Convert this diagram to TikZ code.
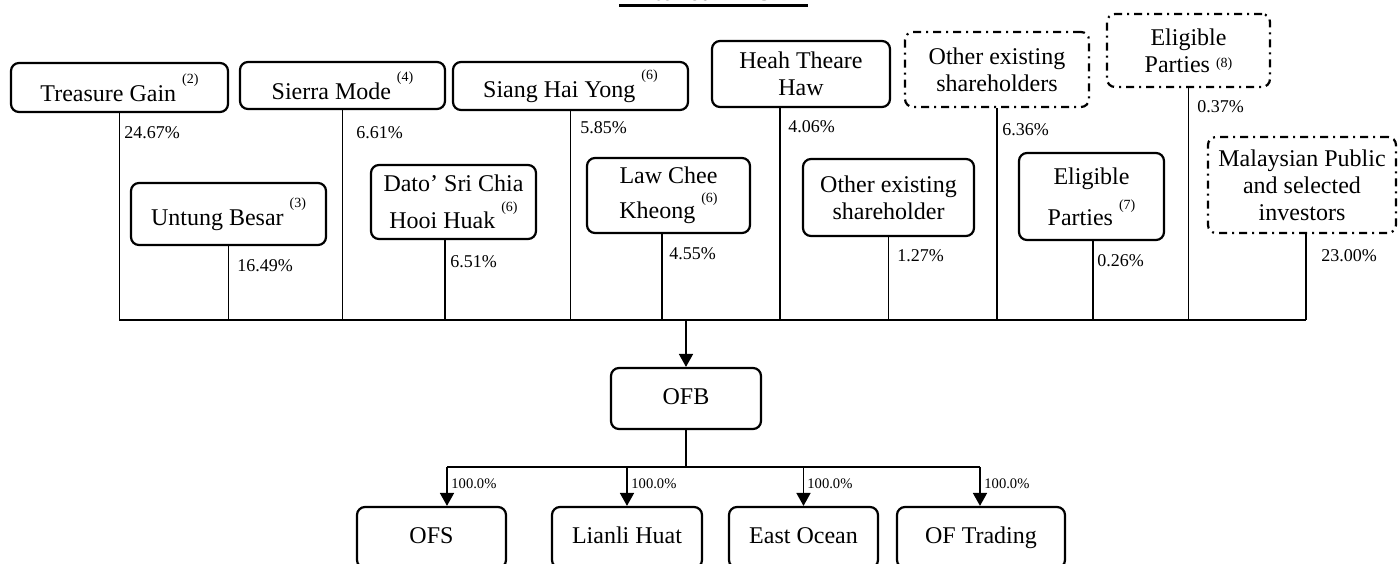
\documentclass[tikz,border=0pt]{standalone}
\usepackage{fontspec}
\setmainfont{Liberation Serif}
\usetikzlibrary{arrows.meta}
\newcommand\fnref[2][9pt]{\raisebox{#1}{\fontsize{7}{8}\selectfont(#2)}}
\tikzset{
    RB/.style ={rectangle,rounded corners=4pt,draw,line width=1.1pt,align=center,inner sep=0pt,font=\fontsize{12}{13.5}\selectfont},
    RD/.style ={RB,dash pattern=on 4pt off 2.5pt on 1pt off 2.5pt},
    RS/.style ={RB,text height=8pt,text depth=2.5pt},
    BS/.style 2 args={minimum width=#1*0.5pt,minimum height=#2*0.5pt},
    PC/.style ={anchor=west,inner sep=0pt,font=\fontsize{9}{10}\selectfont},
    PS/.style ={anchor=west,inner sep=0pt,font=\fontsize{7.3}{8}\selectfont},
    LN/.style ={line width=0.9pt},
    AR/.style ={LN,-{Triangle[width=7pt,length=6.5pt]}}}
\begin{document}
\begin{tikzpicture}[x=0.5pt,y=-0.5pt]
        \useasboundingbox (0,0) rectangle (1399,563);
        % title
        \node[anchor=base,inner sep=0pt,font=\bfseries\fontsize{12}{13.5}\selectfont] (ttl) at (701,0.5) {After our IPO};
        \draw[line width=1.5pt] (619,5.5) -- (808,5.5);
        % shareholders, upper row
        \node[RB,BS={217}{49}] (tg) at (119.5,87.5) {Treasure Gain \fnref{2}};
        \node[RB,BS={205}{47}] (sm) at (342.5,85.5) {Sierra Mode \fnref{4}};
        \node[RB,BS={235}{48}] (shy) at (570.5,86) {Siang Hai Yong \fnref{6}};
        \node[RB,BS={178}{66}] (hth) at (801,74) {Heah Theare\\Haw};
        \node[RD,BS={184}{75}] (oes) at (997,69.5) {Other existing\\shareholders};
        \node[RD,BS={163}{73}] (ep8) at (1188.5,50.5) {Eligible\\Parties \fnref[2.5pt]{8}};
        % shareholders, lower row
        \node[RB,BS={195}{62}] (ub) at (228.5,214) {Untung Besar \fnref{3}};
        \node[RB,BS={165}{74}] (dato) at (453.5,202) {Dato’ Sri Chia\\[5pt]Hooi Huak \fnref[8.5pt]{6}};
        \node[RB,BS={163}{75}] (lck) at (668.5,195.5) {Law Chee\\[4pt]Kheong \fnref[8pt]{6}};
        \node[RB,BS={171}{77}] (oesh) at (888.5,197.5) {Other existing\\shareholder};
        \node[RB,BS={145}{87}] (ep7) at (1091.5,196.5) {Eligible\\[4pt]Parties \fnref[8pt]{7}};
        \node[RD,BS={188}{96}] (mp) at (1302,185) {Malaysian Public\\and selected\\investors};
        % bus to OFB
        \coordinate (busL) at (119,320);
        \coordinate (busR) at (1306,320);
        \draw[LN] (busL) -- (busR);
        \foreach \n in {tg,sm,shy,oes,ep8,ub,oesh}{
        \draw[LN] (\n.south) -- (\n.south |- busL);}
        \draw[LN] ([xshift=-10.5pt]hth.south) -- ([xshift=-10.5pt]hth.south |- busL);
        \draw[LN] ([xshift=-4.25pt]dato.south) -- ([xshift=-4.25pt]dato.south |- busL);
        \draw[LN] ([xshift=-3.25pt]lck.south) -- ([xshift=-3.25pt]lck.south |- busL);
        \draw[LN] ([xshift=0.75pt]ep7.south) -- ([xshift=0.75pt]ep7.south |- busL);
        \draw[LN] ([xshift=2pt]mp.south) -- ([xshift=2pt]mp.south |- busL);
        % percentages
        \node[PC] (p1) at (124,132.5) {24.67\%};
        \node[PC] (p2) at (356,133) {6.61\%};
        \node[PC] (p3) at (580,128) {5.85\%};
        \node[PC] (p4) at (788,127) {4.06\%};
        \node[PC] (p5) at (1002,130) {6.36\%};
        \node[PC] (p6) at (1197,107) {0.37\%};
        \node[PC] (p7) at (237,266) {16.49\%};
        \node[PC] (p8) at (450,262) {6.51\%};
        \node[PC] (p9) at (669,254) {4.55\%};
        \node[PC] (p10) at (897,256) {1.27\%};
        \node[PC] (p11) at (1097,261) {0.26\%};
        \node[PC] (p12) at (1321,256) {23.00\%};
        % OFB and subsidiaries
        \node[RS,BS={150}{61}] (ofb) at (686,398.5) {OFB};
        \draw[AR] (ofb.north |- busL) -- (ofb.north);
        \node[RS,BS={149}{61}] (ofs) at (431.5,537.5) {OFS};
        \node[RS,BS={150}{61}] (lh) at (627,537.5) {Lianli Huat};
        \node[RS,BS={149}{61}] (eo) at (803.5,537.5) {East Ocean};
        \node[RS,BS={168}{61}] (oft) at (981,537.5) {OF Trading};
        \coordinate (subL) at (447,467);
        \coordinate (subR) at (980,467);
        \draw[LN] (ofb.south) -- (ofb.south |- subL);
        \draw[LN] (subL) -- (subR);
        \draw[AR] (subL) -- (subL |- ofs.north);
        \draw[AR] (lh.north |- subL) -- (lh.north);
        \draw[AR] (eo.north |- subL) -- (eo.north);
        \draw[AR] (subR) -- (subR |- oft.north);
        \foreach \x in {447,627,803,980}{
        \node[PS] at (\x+4,484) {100.0\%};}
    \end{tikzpicture}
\end{document}
